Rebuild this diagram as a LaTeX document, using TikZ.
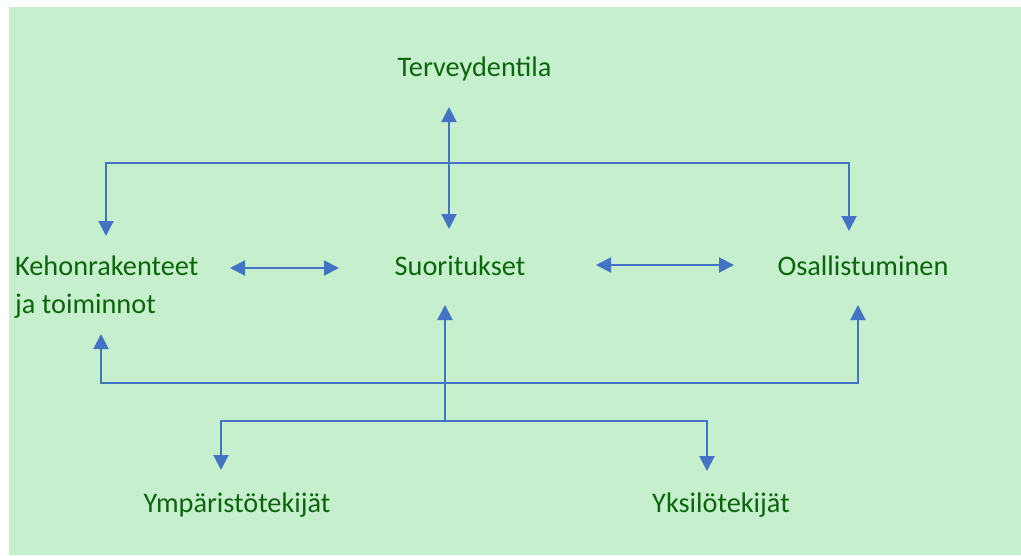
\documentclass[tikz,border=0pt]{standalone}
\usepackage{fontspec}
\setmainfont{Carlito}
\usetikzlibrary{arrows.meta}
\definecolor{bggreen}{HTML}{C6EFCE}
\definecolor{txtgreen}{HTML}{0B650B}
\definecolor{arrblue}{HTML}{4472C4}
\begin{document}
\begin{tikzpicture}[x=1pt,y=-1pt,
  lbl/.style={text=txtgreen,font=\fontsize{28.3}{38}\selectfont,inner sep=0pt,anchor=base},
  conn/.style={draw=arrblue,line width=2pt},
  tip/.style={-{Triangle[length=15pt,width=15pt]}},
  tips/.style={{Triangle[length=15pt,width=15pt]}-{Triangle[length=15pt,width=15pt]}}]
\useasboundingbox (0,0) rectangle (1021,555);
\fill[white] (0,0) rectangle (1021,555);
\fill[bggreen] (9,7) rectangle (1021,555);
% nodes
\node[lbl] (terv) at (474.5,76) {Terveydentila};
\node[lbl] (suor) at (460,275) {Suoritukset};
\node[lbl] (osal) at (863,275) {Osallistuminen};
\node[lbl,anchor=base west,align=left] (keho) at (15,313) {Kehonrakenteet\\ja toiminnot};
\node[lbl] (ymp) at (237,512) {Ympäristötekijät};
\node[lbl] (yks) at (721,512) {Yksilötekijät};
% coordinates
\coordinate (tvTop) at (449,107);
\coordinate (tvBot) at (449,229);
\coordinate (kTop) at (106,236);
\coordinate (oTop) at (849,231);
\coordinate (kBot) at (101,334);
\coordinate (oBot) at (858,305);
\coordinate (sBot) at (445,305);
\coordinate (sStem) at (445,421);
\coordinate (yL) at (221,470);
\coordinate (yR) at (707,471);
\coordinate (ksL) at (230,268);
\coordinate (ksR) at (339,268);
\coordinate (soL) at (596,265);
\coordinate (soR) at (734,265);
% connectors
\draw[conn,tips] (tvTop) -- (tvBot);
\draw[conn,tips] (kTop) |- (849,163) -- (oTop);
\draw[conn,tips] (ksL) -- (ksR);
\draw[conn,tips] (soL) -- (soR);
\draw[conn,tips] (kBot) |- (858,383) -- (oBot);
\draw[conn,tip] (sStem) -- (sBot);
\draw[conn,tips] (yL) |- (707,421) -- (yR);
\end{tikzpicture}
\end{document}
